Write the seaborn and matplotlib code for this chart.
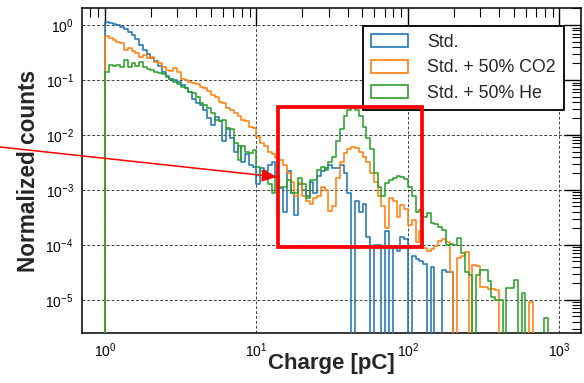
import numpy as np
import pandas as pd
import matplotlib
matplotlib.use("Agg")
import matplotlib.pyplot as plt
import seaborn as sns
from matplotlib.patches import Rectangle, Patch
from matplotlib.ticker import LogLocator, FuncFormatter, NullFormatter

# ---------------- data ----------------
series_names = ["Std.", "Std. + 50% CO2", "Std. + 50% He"]
series_colors = ["#1f77b4", "#ff7f0e", "#2ca02c"]
bins_per_decade = 40          # log-spaced bins from 1 pC to 1000 pC
n_bins = 120

std_vals = [
    1.12, 1.07, 1.05, 1.0, 0.91, 0.83, 0.76, 0.66, 0.55, 0.44,
    0.35, 0.30, 0.25, 0.22, 0.18, 0.138, 0.120, 0.105, 0.100, 0.091,
    0.081, 0.071, 0.060, 0.045, 0.038, 0.035, 0.028, 0.020, 0.015, 0.021,
    0.018, 0.0079, 0.0126, 0.0089, 0.0050, 0.0063, 0.0032, 0.0045, 0.0028, 0.0026,
    0.00126, 0.0025, 0.0022, 0.0028, 0.0032, 0.0018, 0.0011, 0.0004, 0.0022, 0.00089,
    0.00035, 0.00126, 0.0010, 0.00079, 0.0014, 0.00089, 0.0018, 0.0022, 0.0025, 0.0028,
    0.0025, 0.0025, 0.0028, 0.0020, 0.00089, 0.0, 0.00063, 0.0004, 0.00056, 0.00014,
    0.0, 1.0e-4, 1.0e-4, 0.0, 1.8e-4, 0.0, 8.9e-5, 7.9e-5, 1.4e-4, 1.26e-4,
    0.0, 6.3e-5, 5.6e-5, 5.0e-5, 4.5e-5, 0.0, 4.0e-5, 0.0, 0.0, 3.5e-5,
    3.2e-5, 3.2e-5, 0.0, 0.0, 0.0, 0.0, 0.0, 0.0, 0.0, 0.0,
    0.0, 0.0, 0.0, 0.0, 0.0, 0.0, 0.0, 0.0, 0.0, 0.0,
    0.0, 0.0, 0.0, 0.0, 0.0, 0.0, 0.0, 0.0, 0.0, 0.0,
]

co2_vals = [
    0.63, 0.575, 0.54, 0.50, 0.47, 0.355, 0.38, 0.34, 0.316, 0.263,
    0.282, 0.251, 0.263, 0.209, 0.20, 0.174, 0.151, 0.145, 0.166, 0.138,
    0.105, 0.100, 0.091, 0.087, 0.083, 0.076, 0.072, 0.063, 0.054, 0.050,
    0.040, 0.038, 0.0316, 0.0282, 0.0251, 0.0224, 0.0186, 0.0178, 0.0141, 0.0132,
    0.0093, 0.0071, 0.0063, 0.0050, 0.0045, 0.0038, 0.0035, 0.0028, 0.0020, 0.0014,
    0.00079, 0.00135, 0.00079, 0.00063, 0.00056, 0.00071, 0.00079, 0.00112, 0.0010, 0.00042,
    0.0005, 0.00166, 0.0032, 0.0047, 0.0056, 0.0060, 0.0058, 0.0050, 0.0040, 0.0032,
    0.0020, 0.0014, 0.00079, 0.0005, 0.0002, 0.00071, 0.00063, 0.00032, 0.00054, 0.00045,
    0.00023, 0.00028, 0.000112, 0.000178, 8.9e-5, 7.9e-5, 8.3e-5, 9.5e-5, 1.2e-4, 1.26e-4,
    1.12e-4, 3.2e-5, 0.0, 5.8e-5, 6.3e-5, 7.4e-5, 0.0, 4.4e-5, 4.2e-5, 1.74e-5,
    1.74e-5, 1.58e-5, 1.58e-5, 1.5e-5, 0.0, 0.0, 0.0, 0.0, 0.0, 0.0,
    0.0, 0.0, 9.1e-6, 0.0, 0.0, 0.0, 0.0, 0.0, 0.0, 0.0,
]

he_vals = [
    0.141, 0.191, 0.178, 0.191, 0.174, 0.229, 0.174, 0.20, 0.182, 0.209,
    0.174, 0.158, 0.151, 0.141, 0.132, 0.126, 0.112, 0.105, 0.091, 0.083,
    0.076, 0.071, 0.060, 0.058, 0.050, 0.038, 0.035, 0.0316, 0.0251, 0.019,
    0.0182, 0.0186, 0.0135, 0.0126, 0.0071, 0.0035, 0.0063, 0.0050, 0.0047, 0.0054,
    0.0026, 0.0022, 0.0019, 0.00126, 0.00089, 0.00174, 0.00112, 0.00112, 0.0015, 0.00089,
    0.00089, 0.00166, 0.00126, 0.00071, 0.0015, 0.0015, 0.0023, 0.0026, 0.0023, 0.0032,
    0.0040, 0.0079, 0.0126, 0.0224, 0.0282, 0.031, 0.0282, 0.0224, 0.0141, 0.0089,
    0.0056, 0.0020, 0.00112, 0.00079, 0.00135, 0.0015, 0.00166, 0.0018, 0.00174, 0.00158,
    0.00112, 0.00079, 0.0004, 0.00044, 0.00032, 0.00038, 0.00025, 0.00024, 0.00021, 0.000186,
    1.0e-4, 1.05e-4, 1.0e-4, 1.35e-4, 7.1e-5, 3.2e-5, 2.8e-5, 0.0, 2.8e-5, 3.5e-5,
    3.5e-5, 2.2e-5, 1.12e-5, 1.0e-5, 1.0e-5, 0.0, 1.66e-5, 1.66e-5, 2.3e-5, 0.0,
    1.35e-5, 0.0, 0.0, 0.0, 0.0, 0.0, 4.7e-6, 0.0, 0.0, 0.0,
]

x_label = "Charge [pC]"
y_label = "Normalized counts"

# ---------------- style ----------------
sns.set_theme(style="white")
plt.rcParams["font.family"] = ["Liberation Sans", "DejaVu Sans"]
plt.rcParams["mathtext.fontset"] = "custom"
plt.rcParams["mathtext.rm"] = "Liberation Sans"
plt.rcParams["mathtext.it"] = "Liberation Sans:italic"
plt.rcParams["mathtext.bf"] = "Liberation Sans:bold"

W, H = 584, 383
fig = plt.figure(figsize=(W / 100, H / 100), dpi=100)
ax_l, ax_r, ax_t, ax_b = 82, 581, 8, 333
ax = fig.add_axes([ax_l / W, 1 - ax_b / H, (ax_r - ax_l) / W, (ax_b - ax_t) / H])

# bin edges (one empty bin padded on each side so the outline drops to zero)
edges = 10.0 ** (np.arange(-1, n_bins + 2) / bins_per_decade)
centers = np.sqrt(edges[:-1] * edges[1:])
edge_list = [float(e) for e in edges]

for name, vals, col in zip(series_names, [std_vals, co2_vals, he_vals], series_colors):
    padded = [0.0] + [float(v) for v in vals] + [0.0]
    df = pd.DataFrame({"charge": centers, "w": padded})
    sns.histplot(data=df, x="charge", weights="w", bins=edge_list, element="step",
                 fill=False, color=col, linewidth=1.15, ax=ax, zorder=3)

ax.set_xscale("log")
ax.set_yscale("log", nonpositive="clip")
ax.set_xlim(0.705, 1387)
ax.set_ylim(2.5e-6, 2.04)

# ticks
for axis, nt in ((ax.xaxis, 10), (ax.yaxis, 12)):
    axis.set_major_locator(LogLocator(base=10, numticks=nt))
    axis.set_minor_locator(LogLocator(base=10, subs=np.arange(2, 10), numticks=nt * 3))
    axis.set_minor_formatter(NullFormatter())
    axis.set_major_formatter(FuncFormatter(
        lambda v, p: r"$10^{%d}$" % int(round(np.log10(v))) if v > 0 else ""))
ax.tick_params(which="both", direction="in", top=True, right=True, colors="black",
               labelsize=10, pad=6)
ax.tick_params(which="major", length=12, width=1.0)
ax.tick_params(which="minor", length=6.5, width=0.8)

ax.grid(True, which="major", color="0.25", linestyle=(0, (3, 2)), linewidth=0.7, zorder=1)
ax.set_axisbelow(True)
for sp in ax.spines.values():
    sp.set_color("black")
    sp.set_linewidth(1.1)

ax.set_xlabel(x_label, fontsize=16, fontweight="bold")
ax.set_ylabel(y_label, fontsize=16.3, fontweight="bold")
ax.xaxis.set_label_coords(0.5, -0.062)
ax.yaxis.set_label_coords(-0.084, 0.5)

# legend
handles = [Patch(facecolor="white", edgecolor=c, linewidth=1.2) for c in series_colors]
leg = ax.legend(handles, series_names, loc="upper left",
                bbox_to_anchor=((363 - ax_l) / (ax_r - ax_l), (ax_b - 26) / (ax_b - ax_t)),
                fontsize=12.8, frameon=True, fancybox=False, framealpha=1,
                edgecolor="black", handlelength=2.1, handleheight=0.75,
                handletextpad=1.05, labelspacing=0.47, borderpad=0.45, borderaxespad=0)
leg.get_frame().set_linewidth(1.3)
leg.set_zorder(5)

# red annotations
def px_to_data(px, py):
    return 10 ** ((px - 105) / 151.5), 10 ** ((25 - py) / 55)

x0, y1 = px_to_data(278, 107)
x1, y0 = px_to_data(422, 247)
ax.add_patch(Rectangle((x0, y0), x1 - x0, y1 - y0, fill=False, edgecolor="#ff0000",
                       linewidth=2.7, zorder=6, clip_on=False))
tip = px_to_data(277, 177)
ax.annotate("", xy=tip, xycoords="data", xytext=(0.0, 1 - 147 / H),
            textcoords="figure fraction", annotation_clip=False,
            arrowprops=dict(arrowstyle="-|>,head_length=0.9,head_width=0.38",
                            color="#ff0000", lw=1.1, mutation_scale=10,
                            shrinkA=0, shrinkB=0), zorder=6)

fig.savefig("out.png", dpi=100)
